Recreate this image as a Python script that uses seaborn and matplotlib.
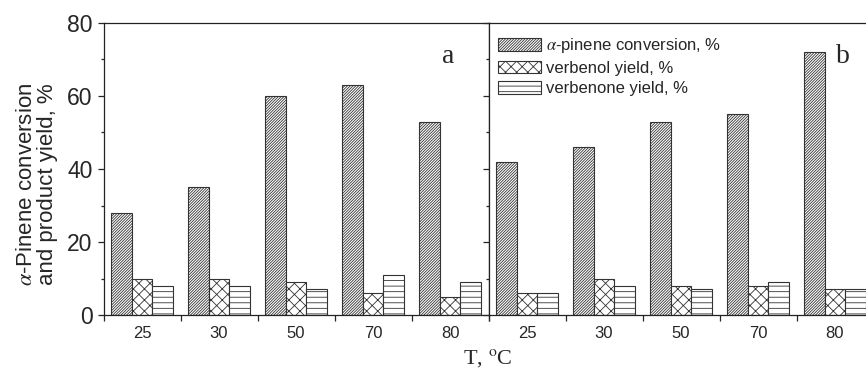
import numpy as np
import pandas as pd
import matplotlib
matplotlib.use("Agg")
import matplotlib.pyplot as plt
import seaborn as sns
from matplotlib.patches import Patch
from matplotlib.ticker import FixedLocator, NullFormatter

# ---- data ----
temps = ["25", "30", "50", "70", "80"]
conv_a = [28, 35, 60, 63, 53]
verbenol_a = [10, 10, 9, 6, 5]
verbenone_a = [8, 8, 7, 11, 9]
conv_b = [42, 46, 53, 55, 72]
verbenol_b = [6, 10, 8, 8, 7]
verbenone_b = [6, 8, 7, 9, 7]
series = [r"$\alpha$-pinene conversion, %", "verbenol yield, %", "verbenone yield, %"]
hatches = ["/" * 12, "xxx", "---"]

sns.set_style("ticks")
plt.rcParams["font.family"] = ["Liberation Sans", "DejaVu Sans"]
plt.rcParams["mathtext.fontset"] = "stix"
plt.rcParams["hatch.linewidth"] = 0.6
plt.rcParams["axes.linewidth"] = 0.9
plt.rcParams["axes.edgecolor"] = "#222222"

EDGE = "#333333"

fig = plt.figure(figsize=(8.66, 3.76), dpi=100)
axA = fig.add_axes([103.5 / 866, 1 - 315 / 376, 385 / 866, 292 / 376])
axB = fig.add_axes([488.5 / 866, 1 - 315 / 376, 385 / 866, 292 / 376])


def panel(ax, conv, vol, vone, show_ylabels):
    df = pd.DataFrame({
        "T": temps * 3,
        "value": conv + vol + vone,
        "series": np.repeat(series, len(temps)),
    })
    sns.barplot(data=df, x="T", y="value", hue="series", order=temps,
                hue_order=series, palette={s: "white" for s in series},
                saturation=1, width=0.8, edgecolor=EDGE, linewidth=0.8,
                legend=False, errorbar=None, ax=ax)
    for cont, h in zip(ax.containers, hatches):
        for p in cont:
            p.set_hatch(h)
            p.set_facecolor("white")
            p.set_edgecolor(EDGE)
    ax.set_xlim(-0.5, 4.5)
    ax.set_ylim(0, 80)
    ax.set_xlabel("")
    ax.set_ylabel("")
    ax.set_yticks([0, 20, 40, 60, 80])
    ax.yaxis.set_minor_locator(FixedLocator([10, 30, 50, 70]))
    ax.xaxis.set_minor_locator(FixedLocator(np.arange(-0.5, 5, 1.0)))
    ax.xaxis.set_minor_formatter(NullFormatter())
    ax.tick_params(axis="x", which="major", length=0, pad=8, labelsize=12)
    ax.tick_params(axis="x", which="minor", length=4, width=0.9, direction="out")
    ax.tick_params(axis="y", which="major", length=4.5, width=0.9, direction="out",
                   pad=3.5, labelsize=16.5, labelleft=show_ylabels)
    ax.tick_params(axis="y", which="minor", length=2.5, width=0.9, direction="out")
    for s in ["top", "right", "left", "bottom"]:
        ax.spines[s].set_visible(True)


panel(axA, conv_a, verbenol_a, verbenone_a, True)
panel(axB, conv_b, verbenol_b, verbenone_b, False)

handles = [Patch(facecolor="white", edgecolor=EDGE, hatch=h, linewidth=0.8) for h in hatches]
axB.legend(handles, series, loc="upper left", bbox_to_anchor=(0.025, 0.955),
           frameon=False, fontsize=12, handlelength=2.6, handleheight=0.78,
           handletextpad=0.25, labelspacing=0.33, borderpad=0, borderaxespad=0)

fig.text(448 / 866, 1 - 63 / 376, "a", ha="center", va="baseline",
         fontsize=20, family="Liberation Serif")
fig.text(843 / 866, 1 - 63 / 376, "b", ha="center", va="baseline",
         fontsize=20, family="Liberation Serif")

fig.text(37 / 866, 1 - 184 / 376, "$\\alpha$-Pinene conversion\nand product yield, %",
         rotation=90, ha="center", va="center", fontsize=16, linespacing=1.05,
         multialignment="center")
fig.text(488 / 866, 1 - 358 / 376, "T, $^\\mathrm{o}$C", ha="center", va="center",
         fontsize=16, family="Liberation Serif")

fig.savefig("out.png", dpi=100)
